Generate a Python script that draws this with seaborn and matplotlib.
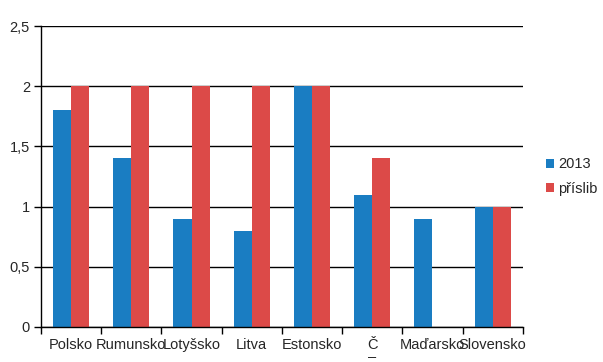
import pandas as pd
import numpy as np
import seaborn as sns
import matplotlib.pyplot as plt

# data
countries = ['Polsko', 'Rumunsko', 'Lotyšsko', 'Litva', 'Estonsko', 'Č\n–', 'Maďarsko', 'Slovensko']
val_2013 = [1.8, 1.4, 0.9, 0.8, 2.0, 1.1, 0.9, 1.0]
val_prislib = [2.0, 2.0, 2.0, 2.0, 2.0, 1.4, np.nan, 1.0]
series = ['2013', 'příslib']
colors = ['#1a7dc2', '#dc4a48']

df = pd.DataFrame({'country': countries * 2,
                   'value': val_2013 + val_prislib,
                   'series': [series[0]] * len(countries) + [series[1]] * len(countries)})

sns.set_style('white')
plt.rcParams['font.family'] = ['Liberation Sans', 'DejaVu Sans']

fig = plt.figure(figsize=(6.03, 3.62), dpi=100)
ax = fig.add_axes([0.068, 0.097, 0.799, 0.831])
ax.set_axisbelow(True)
ax.yaxis.grid(True, color='black', linewidth=1)

sns.barplot(data=df, x='country', y='value', hue='series', palette=colors,
            width=0.6, saturation=1, ax=ax, errorbar=None, linewidth=0)

ax.set_ylim(0, 2.5)
ax.set_xlim(-0.5, len(countries) - 0.5)
ax.set_yticks([0, 0.5, 1, 1.5, 2, 2.5])
ax.set_yticklabels(['0', '0,5', '1', '1,5', '2', '2,5'], fontsize=10.5)
ax.set_xticks(range(len(countries)))
ax.set_xticklabels(countries, fontsize=10.5, va='top', linespacing=0.8)
ax.tick_params(axis='x', length=0, pad=8)
ax.set_xticks(np.arange(-0.5, len(countries)), minor=True)
ax.tick_params(axis='x', which='minor', length=5, color='black', width=1, direction='out', bottom=True)
ax.tick_params(axis='y', length=5, color='black', width=1, direction='out', left=True, pad=3)
ax.set_xlabel('')
ax.set_ylabel('')
for s in ['top', 'right']:
    ax.spines[s].set_visible(False)
for s in ['left', 'bottom']:
    ax.spines[s].set_color('black')
    ax.spines[s].set_linewidth(1)

ax.legend(loc='center left', bbox_to_anchor=(1.02, 0.5), frameon=False,
          fontsize=10.5, handlelength=0.6, handleheight=0.6, handletextpad=0.25,
          labelspacing=0.7)

plt.savefig('out.png', dpi=100)
